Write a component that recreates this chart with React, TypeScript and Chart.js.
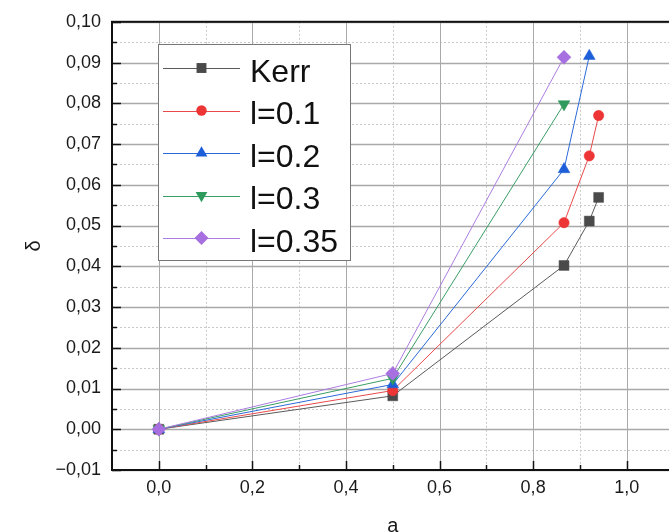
import React, { useEffect, useRef } from "react";
import { Chart, registerables } from "chart.js";

Chart.register(...registerables);

// ---- data ----
const aKerr = [0, 0.5, 0.866, 0.92, 0.94];
const deltaKerr = [0, 0.0082, 0.0402, 0.0511, 0.0569];
const aL01 = [0, 0.5, 0.866, 0.92, 0.94];
const deltaL01 = [0, 0.0095, 0.0507, 0.0671, 0.077];
const aL02 = [0, 0.5, 0.866, 0.92];
const deltaL02 = [0, 0.011, 0.0638, 0.0916];
const aL03 = [0, 0.5, 0.866];
const deltaL03 = [0, 0.0125, 0.0798];
const aL035 = [0, 0.5, 0.866];
const deltaL035 = [0, 0.0137, 0.0913];

const seriesNames = ["Kerr", "l=0.1", "l=0.2", "l=0.3", "l=0.35"];

const xTicks = [0, 0.2, 0.4, 0.6, 0.8, 1.0];
const xTickLabels = ["0,0", "0,2", "0,4", "0,6", "0,8", "1,0"];
const yTicks = [-0.01, 0, 0.01, 0.02, 0.03, 0.04, 0.05, 0.06, 0.07, 0.08, 0.09, 0.1];
const yTickLabels = ["\u22120,01", "0,00", "0,01", "0,02", "0,03", "0,04", "0,05", "0,06", "0,07", "0,08", "0,09", "0,10"];

const X_MIN = -0.1;
const X_MAX = 1.1;
const Y_MIN = -0.01;
const Y_MAX = 0.1;

// ---- styles ----
const seriesStyles = [
  { color: "#4a4a4a", line: "#5a5a5a", pointStyle: "rect", radius: 7, rotation: 0 },
  { color: "#ee3535", line: "#e84a4a", pointStyle: "circle", radius: 5.2, rotation: 0 },
  { color: "#1c5fd8", line: "#2a6ad8", pointStyle: "triangle", radius: 6.8, rotation: 0 },
  { color: "#2e9b5c", line: "#3a9e64", pointStyle: "triangle", radius: 6.8, rotation: 180 },
  { color: "#a76fe0", line: "#ac7de0", pointStyle: "rectRot", radius: 7, rotation: 0 },
];

const FONT = "'Liberation Sans', Arial, sans-serif";

function drawMarker(ctx: CanvasRenderingContext2D, style: string, x: number, y: number, r: number, rot: number, color: string) {
  ctx.save();
  ctx.translate(x, y);
  ctx.rotate((rot * Math.PI) / 180);
  ctx.fillStyle = color;
  ctx.beginPath();
  if (style === "rect") {
    const s = r * Math.SQRT1_2;
    ctx.rect(-s, -s, 2 * s, 2 * s);
  } else if (style === "circle") {
    ctx.arc(0, 0, r, 0, Math.PI * 2);
  } else if (style === "triangle") {
    ctx.moveTo(0, -r);
    ctx.lineTo(r * 0.866, r * 0.5);
    ctx.lineTo(-r * 0.866, r * 0.5);
  } else {
    ctx.moveTo(0, -r);
    ctx.lineTo(r, 0);
    ctx.lineTo(0, r);
    ctx.lineTo(-r, 0);
  }
  ctx.closePath();
  ctx.fill();
  ctx.restore();
}

const framePlugin = {
  id: "frameGrid",
  beforeDatasetsDraw(chart: any) {
    const { ctx, chartArea: ca, scales } = chart;
    const x = scales.x;
    const y = scales.y;
    ctx.save();
    // minor grid (dotted)
    ctx.lineWidth = 1;
    ctx.strokeStyle = "#c8c8c8";
    ctx.setLineDash([2, 2]);
    xTicks.map((v) => v + 0.1).forEach((v) => {
      if (v >= X_MAX) return;
      const px = Math.round(x.getPixelForValue(v)) + 0.5;
      ctx.beginPath();
      ctx.moveTo(px, ca.top);
      ctx.lineTo(px, ca.bottom);
      ctx.stroke();
    });
    yTicks.map((v) => v + 0.005).forEach((v) => {
      if (v >= Y_MAX) return;
      const py = Math.round(y.getPixelForValue(v)) + 0.5;
      ctx.beginPath();
      ctx.moveTo(ca.left, py);
      ctx.lineTo(ca.right, py);
      ctx.stroke();
    });
    // major grid (solid)
    ctx.setLineDash([]);
    ctx.strokeStyle = "#a9a9a9";
    xTicks.forEach((v) => {
      const px = Math.round(x.getPixelForValue(v)) + 0.5;
      ctx.beginPath();
      ctx.moveTo(px, ca.top);
      ctx.lineTo(px, ca.bottom);
      ctx.stroke();
    });
    ctx.lineWidth = 1.4;
    yTicks.forEach((v) => {
      const py = Math.round(y.getPixelForValue(v)) + 0.5;
      ctx.beginPath();
      ctx.moveTo(ca.left, py);
      ctx.lineTo(ca.right, py);
      ctx.stroke();
    });
    ctx.restore();
  },
  afterDatasetsDraw(chart: any) {
    const { ctx, chartArea: ca, scales } = chart;
    const x = scales.x;
    const y = scales.y;
    ctx.save();
    // tick marks (inward)
    ctx.strokeStyle = "#111";
    ctx.lineWidth = 1.5;
    xTicks.forEach((v) => {
      const px = Math.round(x.getPixelForValue(v)) + 0.5;
      ctx.beginPath();
      ctx.moveTo(px, ca.bottom);
      ctx.lineTo(px, ca.bottom - 9);
      ctx.stroke();
      const pm = Math.round(x.getPixelForValue(v + 0.1)) + 0.5;
      ctx.beginPath();
      ctx.moveTo(pm, ca.bottom);
      ctx.lineTo(pm, ca.bottom - 5);
      ctx.stroke();
    });
    yTicks.forEach((v) => {
      const py = Math.round(y.getPixelForValue(v)) + 0.5;
      ctx.beginPath();
      ctx.moveTo(ca.left, py);
      ctx.lineTo(ca.left + 9, py);
      ctx.stroke();
      if (v + 0.005 < Y_MAX) {
        const pm = Math.round(y.getPixelForValue(v + 0.005)) + 0.5;
        ctx.beginPath();
        ctx.moveTo(ca.left, pm);
        ctx.lineTo(ca.left + 5, pm);
        ctx.stroke();
      }
    });
    // frame
    ctx.lineWidth = 2;
    ctx.strokeStyle = "#111";
    ctx.strokeRect(ca.left, ca.top, ca.right - ca.left, ca.bottom - ca.top);
    ctx.restore();
  },
  afterDraw(chart: any) {
    const ctx: CanvasRenderingContext2D = chart.ctx;
    ctx.save();
    const bx = 158.5, by = 44.5, bw = 192, bh = 216;
    ctx.fillStyle = "#ffffff";
    ctx.fillRect(bx, by, bw, bh);
    ctx.strokeStyle = "#777";
    ctx.lineWidth = 1;
    ctx.strokeRect(bx, by, bw, bh);
    seriesNames.forEach((name, i) => {
      const st = seriesStyles[i];
      const ry = 68 + i * 42.5;
      ctx.strokeStyle = st.line;
      ctx.lineWidth = 1;
      ctx.beginPath();
      ctx.moveTo(163, Math.round(ry) + 0.5);
      ctx.lineTo(240, Math.round(ry) + 0.5);
      ctx.stroke();
      drawMarker(ctx, st.pointStyle, 201.5, ry, st.radius, st.rotation, st.color);
      ctx.fillStyle = "#111";
      ctx.font = `32px ${FONT}`;
      ctx.textBaseline = "alphabetic";
      ctx.textAlign = "left";
      ctx.fillText(name, 250, ry + 13.5);
    });
    ctx.restore();
  },
};

export default function App() {
  const canvasRef = useRef<HTMLCanvasElement | null>(null);

  useEffect(() => {
    if (!canvasRef.current) return;
    const xs = [aKerr, aL01, aL02, aL03, aL035];
    const ys = [deltaKerr, deltaL01, deltaL02, deltaL03, deltaL035];
    const datasets = seriesNames.map((name, i) => {
      const st = seriesStyles[i];
      return {
        label: name,
        data: xs[i].map((a, j) => ({ x: a, y: ys[i][j] })),
        borderColor: st.line,
        backgroundColor: st.color,
        borderWidth: 1,
        pointStyle: st.pointStyle,
        pointRadius: st.radius,
        pointRotation: st.rotation,
        pointBackgroundColor: st.color,
        pointBorderColor: st.color,
        pointBorderWidth: 0.5,
        showLine: true,
        order: seriesNames.length - 1 - i,
        clip: false,
      };
    });

    const chart = new Chart(canvasRef.current, {
      type: "scatter",
      data: { datasets } as any,
      options: {
        animation: false,
        responsive: false,
        layout: { padding: { left: 0, top: 17, right: 16.5, bottom: 0 } },
        plugins: { legend: { display: false }, tooltip: { enabled: false } },
        scales: {
          x: {
            type: "linear",
            min: X_MIN,
            max: X_MAX,
            grid: { display: false, drawTicks: false },
            border: { display: false },
            afterBuildTicks: (scale: any) => {
              scale.ticks = xTicks.map((v) => ({ value: v }));
            },
            afterFit: (scale: any) => {
              scale.height = 62;
            },
            ticks: {
              autoSkip: false,
              maxRotation: 0,
              padding: 7,
              color: "#1a1a1a",
              font: { family: FONT, size: 18 },
              callback: (v: any) => {
                const idx = xTicks.findIndex((t) => Math.abs(t - Number(v)) < 1e-9);
                return idx >= 0 ? xTickLabels[idx] : "";
              },
            },
            title: {
              display: true,
              text: "a",
              color: "#1a1a1a",
              font: { family: FONT, size: 20, lineHeight: 0.7 },
              padding: { top: 0, bottom: -1 },
            },
          },
          y: {
            type: "linear",
            min: Y_MIN,
            max: Y_MAX,
            grid: { display: false, drawTicks: false },
            border: { display: false },
            afterBuildTicks: (scale: any) => {
              scale.ticks = yTicks.map((v) => ({ value: v }));
            },
            afterFit: (scale: any) => {
              scale.width = 112;
            },
            ticks: {
              autoSkip: false,
              padding: 11,
              color: "#1a1a1a",
              font: { family: FONT, size: 18 },
              callback: (v: any) => {
                const idx = yTicks.findIndex((t) => Math.abs(t - Number(v)) < 1e-9);
                return idx >= 0 ? yTickLabels[idx] : "";
              },
            },
            title: {
              display: true,
              text: "\u03b4",
              color: "#1a1a1a",
              font: { family: FONT, size: 20, lineHeight: 0.7 },
              padding: { top: 27, bottom: 0 },
            },
          },
        },
      } as any,
      plugins: [framePlugin],
    });
    return () => chart.destroy();
  }, []);

  return (
    <div
      style={{
        position: "fixed",
        left: 0,
        top: 0,
        width: 669,
        height: 532,
        overflow: "hidden",
        background: "#ffffff",
      }}
    >
      <canvas
        ref={canvasRef}
        width={690}
        height={532}
        style={{ position: "absolute", left: 0, top: 0, width: 690, height: 532 }}
      />
    </div>
  );
}
